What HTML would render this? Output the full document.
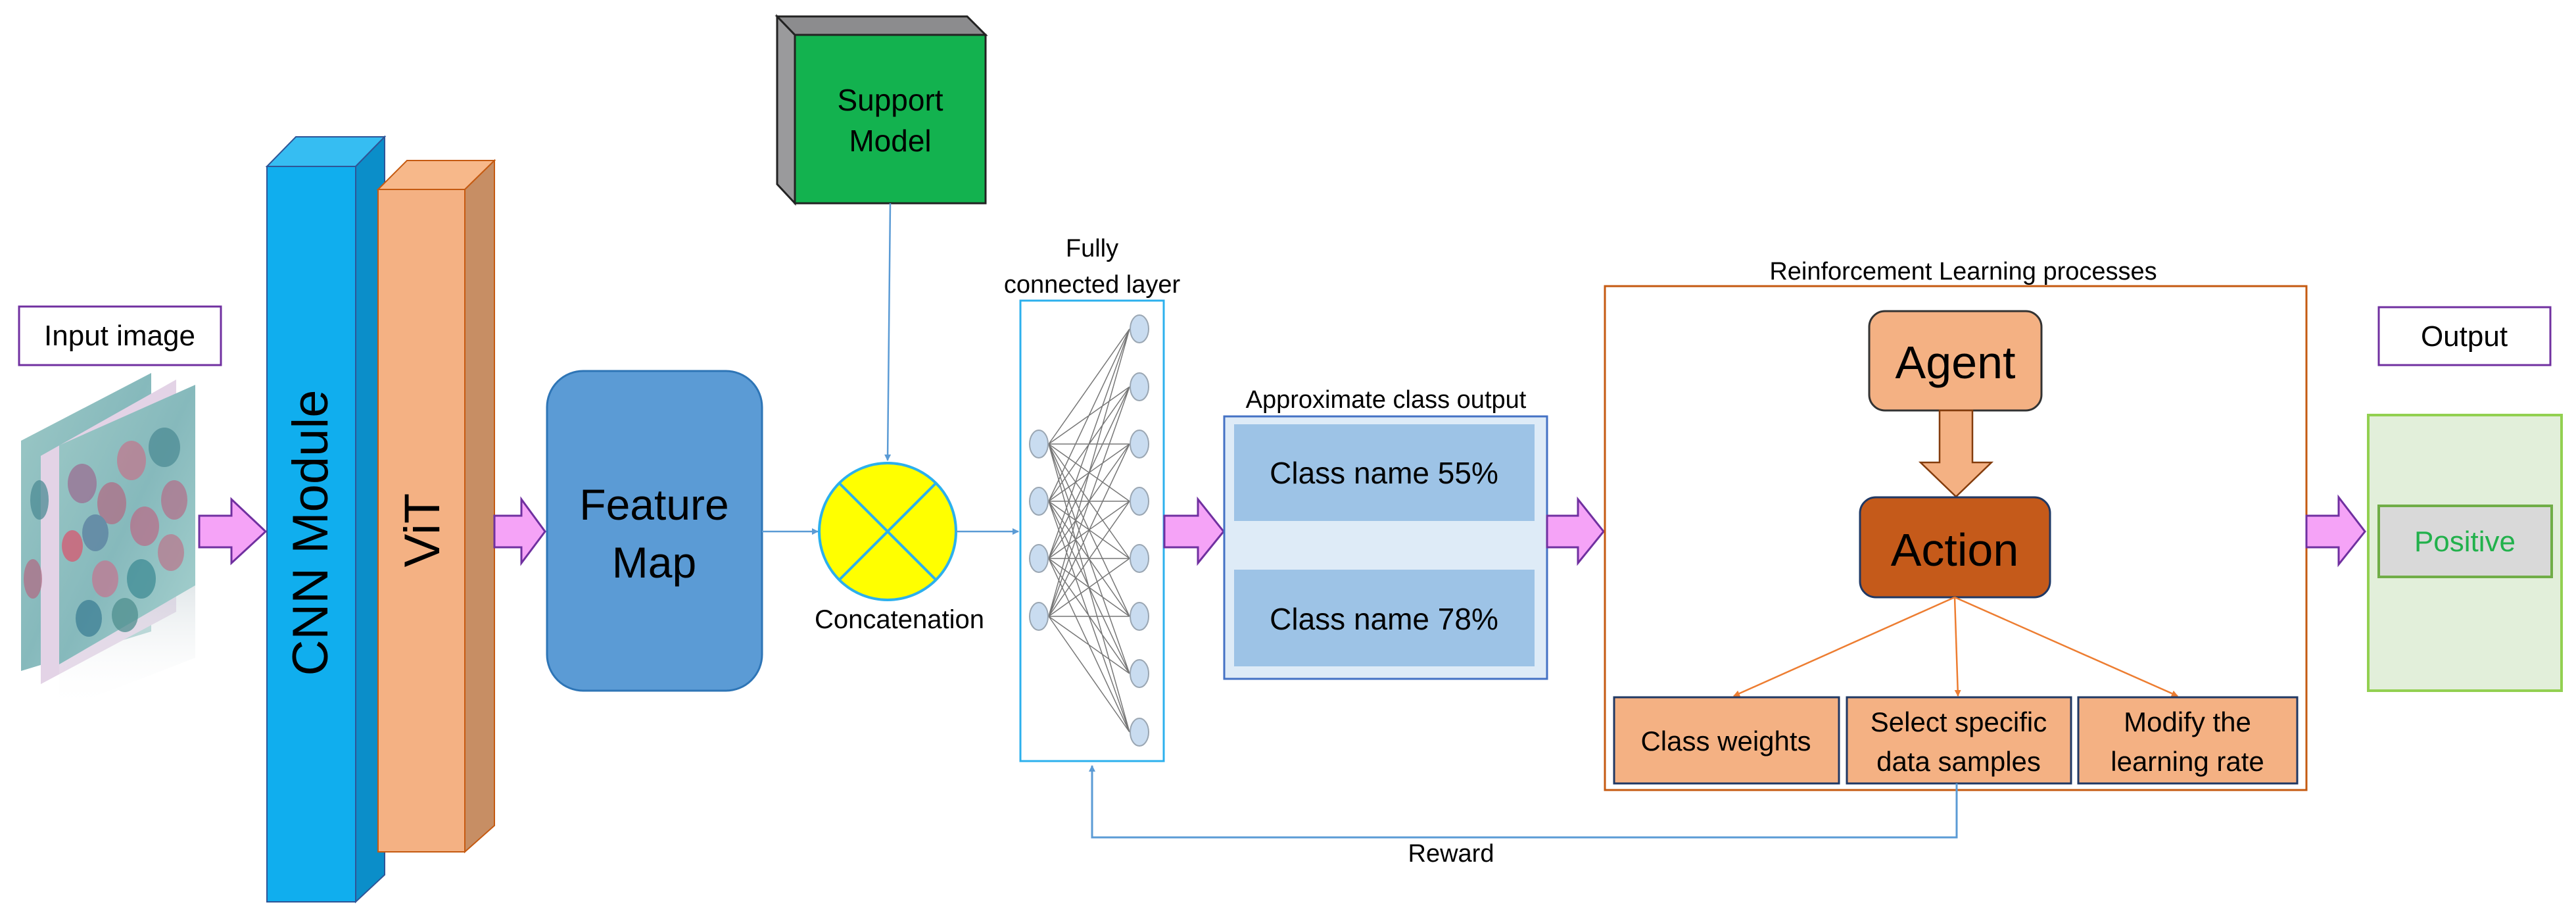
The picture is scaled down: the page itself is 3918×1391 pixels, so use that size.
<!DOCTYPE html>
<html><head><meta charset="utf-8"><style>
html,body{margin:0;padding:0;background:#fff;}
svg{display:block;}
text{font-family:"Liberation Sans",sans-serif;}
.n{font-family:"Liberation Sans Narrow","Liberation Sans",sans-serif;}
</style></head><body>
<svg width="3918" height="1391" viewBox="0 0 3918 1391" xmlns="http://www.w3.org/2000/svg">
<defs>
<marker id="ab" markerWidth="10" markerHeight="10" refX="9" refY="5" orient="auto" markerUnits="userSpaceOnUse" viewBox="0 0 10 10"><path d="M0,0 L10,5 L0,10 z" fill="#5b9bd5"/></marker>
<marker id="ao" markerWidth="10" markerHeight="10" refX="9" refY="5" orient="auto" markerUnits="userSpaceOnUse" viewBox="0 0 10 10"><path d="M0,0 L10,5 L0,10 z" fill="#ed7d31"/></marker>
<linearGradient id="card" x1="0" y1="0" x2="1" y2="1"><stop offset="0" stop-color="#9cc8c6"/><stop offset="0.5" stop-color="#86b9bc"/><stop offset="1" stop-color="#a9d3d0"/></linearGradient>
<linearGradient id="refl" x1="0" y1="0" x2="0" y2="1"><stop offset="0" stop-color="#cfd8dc" stop-opacity="0.6"/><stop offset="1" stop-color="#fff" stop-opacity="0"/></linearGradient>
</defs>

<rect x="29" y="466" width="307" height="89" fill="#fff" stroke="#7030a0" stroke-width="3"/>
<text x="182" y="525" font-size="44" text-anchor="middle">Input image</text>
<polygon points="32,670 230,567 230,960 32,1020" fill="url(#card)"/>
<polygon points="62,693 268,577 268,930 62,1040" fill="#e3d3e6"/>
<polygon points="90,677 297,585 297,890 90,1010" fill="url(#card)"/>
<polygon points="90,1010 297,890 297,1000 90,1080" fill="url(#refl)"/>
<g opacity="0.75">
<ellipse cx="125" cy="735" rx="22" ry="30" fill="#9b6f93"/>
<ellipse cx="170" cy="765" rx="22" ry="32" fill="#b06e86"/>
<ellipse cx="200" cy="700" rx="22" ry="30" fill="#c0798f"/>
<ellipse cx="250" cy="680" rx="24" ry="30" fill="#4d8c95"/>
<ellipse cx="145" cy="810" rx="20" ry="28" fill="#5a7fa0"/>
<ellipse cx="110" cy="830" rx="16" ry="24" fill="#d85870"/>
<ellipse cx="220" cy="800" rx="22" ry="30" fill="#b86f8a"/>
<ellipse cx="265" cy="760" rx="20" ry="30" fill="#b2728c"/>
<ellipse cx="160" cy="880" rx="20" ry="28" fill="#c27892"/>
<ellipse cx="215" cy="880" rx="22" ry="30" fill="#3f8c95"/>
<ellipse cx="260" cy="840" rx="20" ry="28" fill="#b97a8f"/>
<ellipse cx="135" cy="940" rx="20" ry="28" fill="#3d7f95"/>
<ellipse cx="190" cy="935" rx="20" ry="26" fill="#4f8f8f"/>
<ellipse cx="60" cy="760" rx="14" ry="30" fill="#4d8c95"/>
<ellipse cx="50" cy="880" rx="14" ry="30" fill="#b06e86"/>
</g>

<polygon points="303,784 352,784 352,759 404,808 352,856 352,832 303,832" fill="#f5a3f7" stroke="#7030a0" stroke-width="3"/>

<polygon points="406,253 450,208 585,208 541,253" fill="#36bdf2" stroke="#2f5597" stroke-width="2"/>
<polygon points="541,253 585,208 585,1330 541,1371" fill="#0b8ec9" stroke="#2f5597" stroke-width="2"/>
<rect x="406" y="253" width="135" height="1118" fill="#10aeee" stroke="#2f5597" stroke-width="2"/>
<text x="0" y="0" font-size="76" text-anchor="middle" transform="translate(498,810) rotate(-90)">CNN Module</text>

<polygon points="575,288 619,244 752,244 707,288" fill="#f7b88a" stroke="#c55a11" stroke-width="2"/>
<polygon points="707,288 752,244 752,1255 707,1295" fill="#c78e64" stroke="#c55a11" stroke-width="2"/>
<rect x="575" y="288" width="132" height="1007" fill="#f4b183" stroke="#c55a11" stroke-width="2"/>
<text x="0" y="0" font-size="76" text-anchor="middle" transform="translate(668,806) rotate(-90)">ViT</text>

<polygon points="752,784 793,784 793,759 829,808 793,856 793,832 752,832" fill="#f5a3f7" stroke="#7030a0" stroke-width="3"/>

<rect x="832" y="564" width="327" height="486" rx="55" fill="#5b9bd5" stroke="#2e75b6" stroke-width="3"/>
<text x="995" y="790" font-size="66" text-anchor="middle">Feature</text>
<text x="995" y="878" font-size="66" text-anchor="middle">Map</text>

<polygon points="1182,25 1209,53 1209,309 1182,280" fill="#9a9a9c" stroke="#222" stroke-width="3"/>
<polygon points="1182,25 1471,25 1499,53 1209,53" fill="#8c8c8e" stroke="#222" stroke-width="3"/>
<rect x="1209" y="53" width="290" height="256" fill="#13b24f" stroke="#222" stroke-width="3"/>
<text x="1354" y="168" font-size="46" text-anchor="middle">Support</text>
<text x="1354" y="230" font-size="46" text-anchor="middle">Model</text>
<line x1="1354" y1="309" x2="1350" y2="700" stroke="#5b9bd5" stroke-width="2.5" marker-end="url(#ab)"/>

<line x1="1159" y1="808" x2="1244" y2="808" stroke="#5b9bd5" stroke-width="2.5" marker-end="url(#ab)"/>
<circle cx="1350" cy="808" r="104" fill="#ffff00" stroke="#2cb0ed" stroke-width="4"/>
<line x1="1277" y1="735" x2="1423" y2="881" stroke="#2cb0ed" stroke-width="4"/>
<line x1="1423" y1="735" x2="1277" y2="881" stroke="#2cb0ed" stroke-width="4"/>
<text x="1368" y="955" font-size="40" text-anchor="middle">Concatenation</text>
<line x1="1454" y1="808" x2="1549" y2="808" stroke="#5b9bd5" stroke-width="2.5" marker-end="url(#ab)"/>

<text x="1661" y="390" font-size="38" text-anchor="middle">Fully</text>
<text x="1661" y="445" font-size="38" text-anchor="middle">connected layer</text>
<rect x="1552" y="457" width="218" height="700" fill="#fff" stroke="#2cb0ed" stroke-width="3"/>
<g stroke="#555" stroke-width="1.5" opacity="0.8">
<path d="M1595,675 L1718,500 M1595,675 L1718,588 M1595,675 L1718,675 M1595,675 L1718,762 M1595,675 L1718,849 M1595,675 L1718,937 M1595,675 L1718,1024 M1595,675 L1718,1113
M1595,762 L1718,500 M1595,762 L1718,588 M1595,762 L1718,675 M1595,762 L1718,762 M1595,762 L1718,849 M1595,762 L1718,937 M1595,762 L1718,1024 M1595,762 L1718,1113
M1595,849 L1718,500 M1595,849 L1718,588 M1595,849 L1718,675 M1595,849 L1718,762 M1595,849 L1718,849 M1595,849 L1718,937 M1595,849 L1718,1024 M1595,849 L1718,1113
M1595,937 L1718,500 M1595,937 L1718,588 M1595,937 L1718,675 M1595,937 L1718,762 M1595,937 L1718,849 M1595,937 L1718,937 M1595,937 L1718,1024 M1595,937 L1718,1113"/>
</g>
<g fill="#c9dcf0" stroke="#9aa6b2" stroke-width="2">
<ellipse cx="1580" cy="675" rx="14" ry="21"/><ellipse cx="1580" cy="762" rx="14" ry="21"/><ellipse cx="1580" cy="849" rx="14" ry="21"/><ellipse cx="1580" cy="937" rx="14" ry="21"/>
<ellipse cx="1733" cy="500" rx="14" ry="21"/><ellipse cx="1733" cy="588" rx="14" ry="21"/><ellipse cx="1733" cy="675" rx="14" ry="21"/><ellipse cx="1733" cy="762" rx="14" ry="21"/>
<ellipse cx="1733" cy="849" rx="14" ry="21"/><ellipse cx="1733" cy="937" rx="14" ry="21"/><ellipse cx="1733" cy="1024" rx="14" ry="21"/><ellipse cx="1733" cy="1113" rx="14" ry="21"/>
</g>

<polygon points="1771,784 1822,784 1822,759 1861,808 1822,856 1822,832 1771,832" fill="#f5a3f7" stroke="#7030a0" stroke-width="3"/>

<text x="2108" y="620" font-size="38" text-anchor="middle">Approximate class output</text>
<rect x="1862" y="633" width="491" height="399" fill="#deebf7" stroke="#4472c4" stroke-width="3"/>
<rect x="1877" y="645" width="457" height="147" fill="#9dc3e6"/>
<rect x="1877" y="866" width="457" height="147" fill="#9dc3e6"/>
<text x="2105" y="735" font-size="46" text-anchor="middle">Class name 55%</text>
<text x="2105" y="957" font-size="46" text-anchor="middle">Class name 78%</text>

<polygon points="2353,784 2400,784 2400,759 2439,808 2400,856 2400,832 2353,832" fill="#f5a3f7" stroke="#7030a0" stroke-width="3"/>

<text x="2986" y="425" font-size="38" text-anchor="middle" class="n">Reinforcement Learning processes</text>
<rect x="2441" y="435" width="1067" height="766" fill="#fff" stroke="#c55a11" stroke-width="3"/>
<rect x="2843" y="473" width="262" height="151" rx="24" fill="#f4b183" stroke="#333" stroke-width="3"/>
<text x="2974" y="575" font-size="70" text-anchor="middle" class="n">Agent</text>
<polygon points="2950,624 3000,624 3000,703 3029,703 2975,755 2921,703 2950,703" fill="#f4b183" stroke="#843c0c" stroke-width="2.5"/>
<rect x="2829" y="756" width="289" height="152" rx="24" fill="#c55a1a" stroke="#1f3864" stroke-width="3"/>
<text x="2973" y="860" font-size="70" text-anchor="middle" class="n">Action</text>
<line x1="2973" y1="908" x2="2637" y2="1058" stroke="#ed7d31" stroke-width="2.5" marker-end="url(#ao)"/>
<line x1="2973" y1="908" x2="2978" y2="1058" stroke="#ed7d31" stroke-width="2.5" marker-end="url(#ao)"/>
<line x1="2973" y1="908" x2="3312" y2="1058" stroke="#ed7d31" stroke-width="2.5" marker-end="url(#ao)"/>
<rect x="2455" y="1060" width="342" height="131" fill="#f4b183" stroke="#1f3864" stroke-width="3"/>
<rect x="2809" y="1060" width="341" height="131" fill="#f4b183" stroke="#1f3864" stroke-width="3"/>
<rect x="3161" y="1060" width="333" height="131" fill="#f4b183" stroke="#1f3864" stroke-width="3"/>
<text x="2625" y="1141" font-size="42" text-anchor="middle" class="n">Class weights</text>
<text x="2979" y="1112" font-size="42" text-anchor="middle" class="n">Select specific</text>
<text x="2979" y="1172" font-size="42" text-anchor="middle" class="n">data samples</text>
<text x="3327" y="1112" font-size="42" text-anchor="middle" class="n">Modify the</text>
<text x="3327" y="1172" font-size="42" text-anchor="middle" class="n">learning rate</text>

<polyline points="2976,1191 2976,1273 1661,1273 1661,1164" fill="none" stroke="#5b9bd5" stroke-width="3" marker-end="url(#ab)"/>
<text x="2207" y="1310" font-size="38" text-anchor="middle">Reward</text>

<polygon points="3508,784 3557,784 3557,756 3597,808 3557,858 3557,832 3508,832" fill="#f5a3f7" stroke="#7030a0" stroke-width="3"/>

<rect x="3618" y="467" width="261" height="88" fill="#fff" stroke="#7030a0" stroke-width="3"/>
<text x="3748" y="526" font-size="44" text-anchor="middle" class="n">Output</text>
<rect x="3602" y="631" width="294" height="419" fill="#e2efda" stroke="#92d050" stroke-width="4"/>
<rect x="3618" y="769" width="263" height="108" fill="#d9d9d9" stroke="#70ad47" stroke-width="4"/>
<text x="3749" y="838" font-size="44" text-anchor="middle" fill="#22b14c" class="n">Positive</text>
</svg>
</body></html>
